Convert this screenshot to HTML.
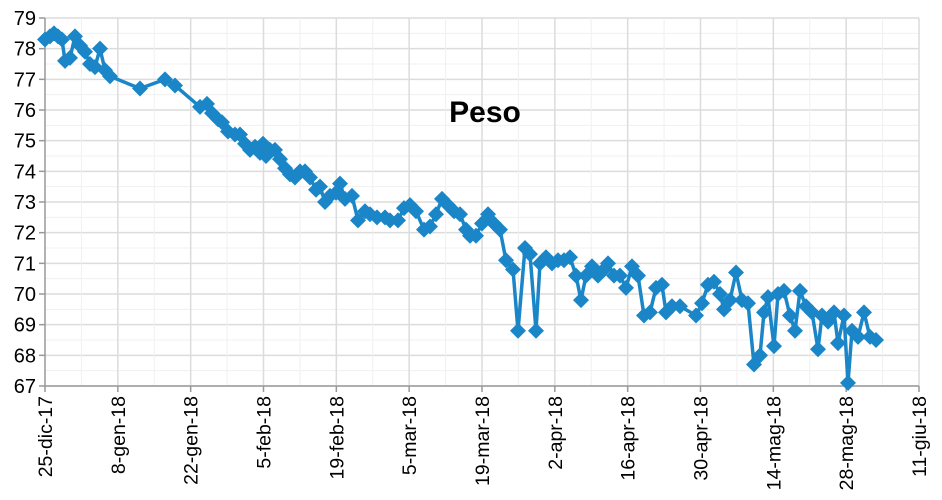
<!DOCTYPE html>
<html><head><meta charset="utf-8"><style>body{margin:0;background:#fff}svg{display:block;font-family:"Liberation Sans",Arial,sans-serif}</style></head>
<body>
<svg id="s" width="942" height="500" xmlns="http://www.w3.org/2000/svg"></svg>
<script>
const s=document.getElementById('s');let h='';
const X0=45,X1=919,Y0=386,YT=18;
const y=v=>Y0-(v-67)*(Y0-YT)/12;
for(let i=0;i<=24;i++){const yy=Y0-i*(Y0-YT)/24;h+=`<line x1="${X0}" x2="${X1}" y1="${yy}" y2="${yy}" stroke="${i%2?'#f0f0f0':'#dcdcdc'}" stroke-width="${i%2?1:1.5}"/>`;}
for(let i=1;i<=24;i++){const xx=X0+i*(X1-X0)/24;h+=`<line x1="${xx}" x2="${xx}" y1="${YT}" y2="${Y0}" stroke="${i%2?'#f0f0f0':'#dcdcdc'}" stroke-width="${i%2?1:1.5}"/>`;}
h+=`<line x1="${X0}" x2="${X0}" y1="${YT}" y2="${Y0}" stroke="#999" stroke-width="1.5"/><line x1="${X0}" x2="${X1}" y1="${Y0}" y2="${Y0}" stroke="#999" stroke-width="1.5"/>`;
for(let v=67;v<=79;v++){h+=`<line x1="${X0-6}" x2="${X0}" y1="${y(v)}" y2="${y(v)}" stroke="#999" stroke-width="1.5"/><text x="${X0-9}" y="${y(v)+7}" font-size="20" text-anchor="end">${v}</text>`;}
const labs=["25-dic-17","8-gen-18","22-gen-18","5-feb-18","19-feb-18","5-mar-18","19-mar-18","2-apr-18","16-apr-18","30-apr-18","14-mag-18","28-mag-18","11-giu-18"];
labs.forEach((l,i)=>{const xx=X0+i*(X1-X0)/12;h+=`<line x1="${xx}" x2="${xx}" y1="${Y0}" y2="${Y0+6}" stroke="#999" stroke-width="1.5"/><text transform="translate(${xx+7},${Y0+10}) rotate(-90)" font-size="19.5" text-anchor="end">${l}</text>`;});
const d=[45,78.3,50,78.4,54,78.5,58,78.4,62,78.3,65,77.6,70,77.7,75,78.4,80,78.1,85,77.9,90,77.5,95,77.4,100,78.0,105,77.3,110,77.1,140,76.7,165,77.0,175,76.8,200,76.1,207,76.2,212,75.9,218,75.7,222,75.6,228,75.3,235,75.2,240,75.2,245,74.9,250,74.7,255,74.8,260,74.6,263,74.9,266,74.5,270,74.7,275,74.7,280,74.4,285,74.1,290,73.9,295,73.8,300,74.0,305,74.0,310,73.8,316,73.4,320,73.5,325,73.0,330,73.2,336,73.3,340,73.6,345,73.1,352,73.2,358,72.4,365,72.7,370,72.6,377,72.5,385,72.5,390,72.4,398,72.4,404,72.8,410,72.9,416,72.7,424,72.1,430,72.2,436,72.6,442,73.1,448,72.9,454,72.7,460,72.6,466,72.1,470,71.9,476,71.9,482,72.3,488,72.6,494,72.3,500,72.1,506,71.1,513,70.8,518,68.8,525,71.5,530,71.3,536,68.8,540,71.0,546,71.2,552,71.0,558,71.1,564,71.1,570,71.2,576,70.6,581,69.8,586,70.6,592,70.9,598,70.6,604,70.8,608,71.0,614,70.6,620,70.6,626,70.2,632,70.9,638,70.6,644,69.3,650,69.4,656,70.2,662,70.3,666,69.4,672,69.6,680,69.6,696,69.3,702,69.7,708,70.3,714,70.4,720,70.0,724,69.5,730,69.8,736,70.7,742,69.8,748,69.7,754,67.7,760,68.0,764,69.4,768,69.9,774,68.3,778,70.0,784,70.1,790,69.3,795,68.8,800,70.1,806,69.6,812,69.4,818,68.2,822,69.3,828,69.1,834,69.4,838,68.4,844,69.3,848,67.1,852,68.8,858,68.6,864,69.4,870,68.6,876,68.5];
let p='';const c='#1a86c8';let m='';
for(let i=0;i<d.length;i+=2){const xx=d[i],yy=y(d[i+1]);p+=(i?'L':'M')+xx+','+yy;m+=`<path d="M${xx},${yy-8}L${xx+8},${yy}L${xx},${yy+8}L${xx-8},${yy}Z" fill="${c}"/>`;}
h+=`<path d="${p}" fill="none" stroke="${c}" stroke-width="3.5" stroke-linejoin="round"/>`+m;
h+=`<text x="485" y="122" font-size="30" font-weight="bold" text-anchor="middle">Peso</text>`;
s.innerHTML=h;
</script>
</body></html>
